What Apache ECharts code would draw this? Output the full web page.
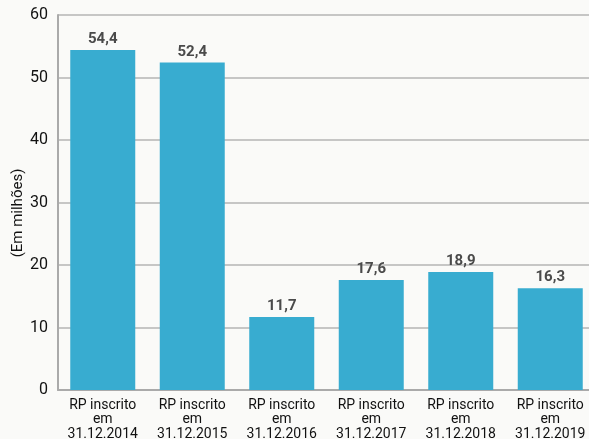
<!DOCTYPE html>
<html>
<head>
<meta charset="utf-8">
<script src="https://cdn.jsdelivr.net/npm/echarts@6/dist/echarts.min.js"></script>
<style>
  html, body { margin: 0; padding: 0; background: #fafaf8; overflow: hidden; }
  #chart { width: 589px; height: 439px; }
</style>
</head>
<body>
<div id="chart"></div>
<script>
// Restos a pagar inscritos por exercício (em milhões)
const categories = [
  'RP inscrito\nem\n31.12.2014',
  'RP inscrito\nem\n31.12.2015',
  'RP inscrito\nem\n31.12.2016',
  'RP inscrito\nem\n31.12.2017',
  'RP inscrito\nem\n31.12.2018',
  'RP inscrito\nem\n31.12.2019'
];
const values = [54.4, 52.4, 11.7, 17.6, 18.9, 16.3];
const yTicks = [0, 10, 20, 30, 40, 50, 60];
const yAxisTitle = '(Em milhões)';

const chart = echarts.init(document.getElementById('chart'), null, { renderer: 'canvas' });
const font = 'Roboto, "Noto Sans", sans-serif';

chart.setOption({
  backgroundColor: '#fafaf8',
  animation: false,
  grid: {
    left: 58, right: -6, top: 15, bottom: 49,
    containLabel: false,
    outerBoundsMode: 'none'
  },
  xAxis: {
    type: 'category',
    data: categories,
    axisLine: { lineStyle: { color: '#aaaaaa', width: 2 } },
    axisTick: { show: false },
    axisLabel: {
      interval: 0,
      color: '#111111',
      fontFamily: font,
      fontSize: 14,
      lineHeight: 14.5,
      margin: 8
    }
  },
  yAxis: {
    type: 'value',
    min: yTicks[0],
    max: yTicks[yTicks.length - 1],
    interval: 10,
    axisLine: { show: true, lineStyle: { color: '#aaaaaa', width: 2 } },
    axisTick: { show: false },
    splitLine: { lineStyle: { color: '#b5b5b5', width: 1.5 } },
    axisLabel: {
      color: '#111111',
      fontFamily: font,
      fontSize: 16,
      margin: 10
    }
  },
  graphic: [{
    type: 'text',
    x: 18,
    y: 213,
    rotation: Math.PI / 2,
    style: {
      text: yAxisTitle,
      fill: '#111111',
      font: '15px ' + font,
      align: 'center',
      verticalAlign: 'middle'
    }
  }],
  series: [{
    type: 'bar',
    data: values,
    barWidth: 65,
    itemStyle: { color: '#38acd0' },
    label: {
      show: true,
      position: 'top',
      distance: 3,
      color: '#4a4a4a',
      fontFamily: font,
      fontWeight: 'bold',
      fontSize: 15,
      formatter: p => p.value.toFixed(1).replace('.', ',')
    }
  }]
});
</script>
</body>
</html>
